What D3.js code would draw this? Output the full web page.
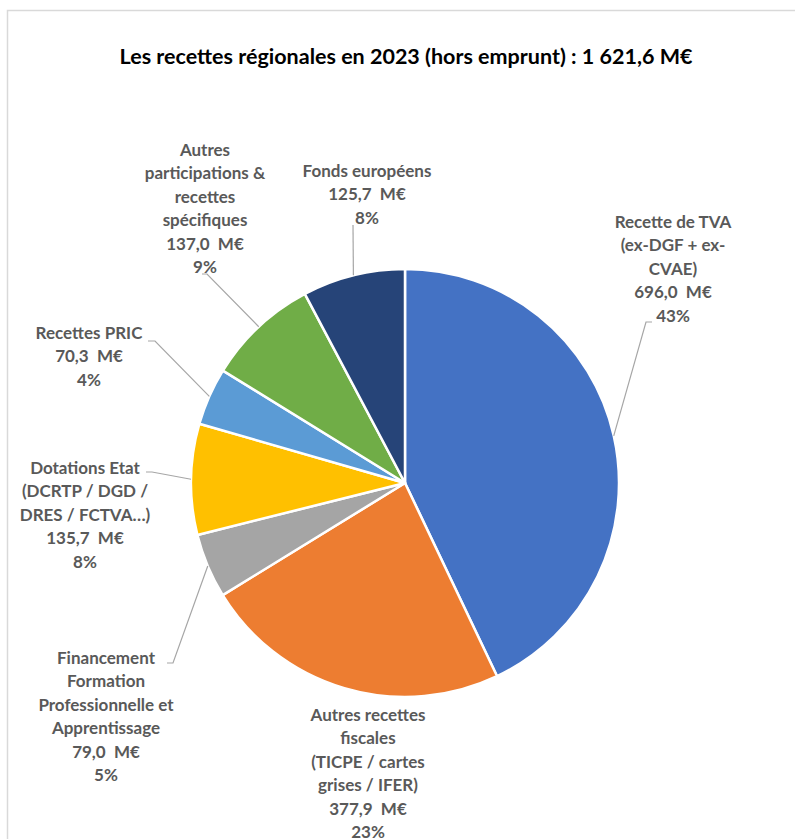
<!DOCTYPE html>
<html><head><meta charset="utf-8">
<script src="https://cdn.jsdelivr.net/npm/d3@7"></script>
<style>
html,body{margin:0;padding:0;background:#fff;}
svg{display:block;}
</style></head>
<body>
<svg id="chart" width="795" height="839"></svg>
<script>
// ---- data ----
const categories = [
  ["Recette de TVA", "(ex-DGF + ex-", "CVAE)"],
  ["Autres recettes", "fiscales", "(TICPE / cartes", "grises / IFER)"],
  ["Financement", "Formation", "Professionnelle et", "Apprentissage"],
  ["Dotations Etat", "(DCRTP / DGD /", "DRES / FCTVA…)"],
  ["Recettes PRIC"],
  ["Autres", "participations &", "recettes", "spécifiques"],
  ["Fonds européens"]
];
const values = [696.0, 377.9, 79.0, 135.7, 70.3, 137.0, 125.7];
const valueLabels = ["696,0  M€", "377,9  M€", "79,0  M€", "135,7  M€", "70,3  M€", "137,0  M€", "125,7  M€"];
const percentLabels = ["43%", "23%", "5%", "8%", "4%", "9%", "8%"];
const colors = ["#4472C4", "#ED7D31", "#A5A5A5", "#FFC000", "#5B9BD5", "#70AD47", "#264478"];
const title = "Les recettes régionales en 2023 (hors emprunt) : 1 621,6 M€";

// ---- layout (label boxes & leader anchors) ----
const labelLayout = [
  {x: 673, y: 222, leader: [[652, 322], [646, 322]]},
  {x: 368, y: 715, leader: null},
  {x: 106, y: 658, leader: [[167, 663], [173, 663]]},
  {x: 85,  y: 468, leader: [[146, 472], [152, 472]]},
  {x: 89,  y: 333, leader: [[148, 341], [155, 341]]},
  {x: 205, y: 150, leader: [[202, 274], [207, 274]]},
  {x: 367, y: 171, leader: [[353, 225]]}
];
const lineH = 23.4;

const svg = d3.select("#chart");
const cx = 405, cy = 483, R = 214;

// frame
svg.append("rect").attr("x", 7.5).attr("y", 10.5).attr("width", 800).attr("height", 840)
  .attr("fill", "none").attr("stroke", "#D9D9D9").attr("stroke-width", 1.5);

// title
svg.append("text").attr("x", 406).attr("y", 64).attr("text-anchor", "middle")
  .attr("font-family", "Lato, 'Open Sans', sans-serif").attr("font-weight", "bold")
  .attr("font-size", 21.5).attr("fill", "#000").text(title);

const data = values.map((v, i) => ({v, i}));
const pie = d3.pie().value(d => d.v).sort(null);
const arcs = pie(data);
const arc = d3.arc().innerRadius(0).outerRadius(R);

const g = svg.append("g").attr("transform", `translate(${cx},${cy})`);
g.selectAll("path.slice").data(arcs).join("path")
  .attr("class", "slice")
  .attr("d", arc)
  .attr("fill", d => colors[d.data.i])
  .attr("stroke", "#fff").attr("stroke-width", 2.5).attr("stroke-linejoin", "round");

// leader lines
arcs.forEach(a => {
  const L = labelLayout[a.data.i];
  if (!L.leader) return;
  const mid = (a.startAngle + a.endAngle) / 2;
  const ex = cx + R * Math.sin(mid), ey = cy - R * Math.cos(mid);
  const pts = L.leader.concat([[ex, ey]]);
  svg.append("path").attr("d", d3.line()(pts))
    .attr("fill", "none").attr("stroke", "#A6A6A6").attr("stroke-width", 1.2);
});

// labels
arcs.forEach(a => {
  const i = a.data.i;
  const L = labelLayout[i];
  const lines = categories[i].concat([valueLabels[i], percentLabels[i]]);
  const t = svg.append("text")
    .attr("text-anchor", "middle")
    .attr("font-family", "Lato, 'Open Sans', sans-serif")
    .attr("font-weight", "bold").attr("font-size", 17)
    .attr("fill", "#595959");
  lines.forEach((s, k) => {
    t.append("tspan").attr("x", L.x).attr("y", L.y + k * lineH).attr("dy", "0.35em")
      .attr("xml:space", "preserve").style("white-space", "pre").text(s);
  });
});
</script>
</body></html>
